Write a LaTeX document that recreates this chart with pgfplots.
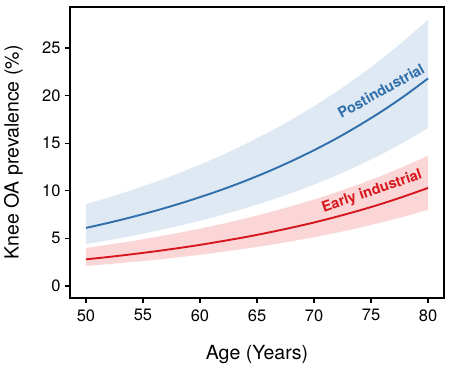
\documentclass[border=0pt]{standalone}
\usepackage{fontspec}
\setmainfont{TeX Gyre Heros}
\usepackage{pgfplots}
\pgfplotsset{compat=1.18}
\usepgfplotslibrary{fillbetween}
\usepackage{pgfplotstable}
\definecolor{bluel}{RGB}{48,110,172}
\definecolor{blueb}{RGB}{222,233,243}
\definecolor{redl}{RGB}{214,24,30}
\definecolor{redb}{RGB}{250,214,214}
\pgfplotstableread{
x bl bm bh rl rm rh
50 4.40 6.10 8.60 2.10 2.80 4.00
52 4.81 6.64 9.30 2.30 3.05 4.34
54 5.25 7.23 10.06 2.51 3.33 4.71
56 5.74 7.87 10.89 2.74 3.63 5.12
58 6.27 8.57 11.78 3.00 3.96 5.55
60 6.85 9.33 12.74 3.28 4.32 6.03
62 7.48 10.15 13.78 3.59 4.72 6.54
64 8.17 11.05 14.91 3.92 5.14 7.10
66 8.92 12.03 16.13 4.29 5.61 7.71
68 9.75 13.10 17.45 4.69 6.12 8.37
70 10.65 14.26 18.88 5.12 6.67 9.08
72 11.63 15.52 20.42 5.60 7.28 9.86
74 12.71 16.90 22.09 6.12 7.94 10.70
76 13.88 18.39 23.90 6.70 8.66 11.61
78 15.17 20.02 25.86 7.32 9.45 12.61
80 16.57 21.80 27.97 8.00 10.30 13.68
}\data
\begin{document}
\begin{tikzpicture}
\begin{axis}[name=ax,
  scale only axis, width=374pt, height=291pt,
  xmin=48.6, xmax=81.4, ymin=-1.26, ymax=29.3,
  xtick={50,55,...,80}, ytick={0,5,...,25},
  axis line style={line width=1.4pt},
  tick style={line width=1.2pt, black},
  tick align=outside, major tick length=5pt,
  xtick pos=bottom, ytick pos=left,
  /pgf/number format/assume math mode=true,
  tick label style={font=\fontsize{16.5}{19}\selectfont},
  xticklabel style={yshift=-3pt},
  yticklabel style={xshift=-1pt},
  xlabel={Age (Years)}, ylabel={Knee OA prevalence (\%)},
  every axis x label/.style={at={(axis description cs:0.5,0)}, anchor=base, yshift=-62pt, font=\fontsize{19.5}{23}\selectfont},
  every axis y label/.style={at={(axis description cs:0,0.5)}, xshift=-56.5pt, rotate=90, anchor=center, font=\fontsize{19.5}{23}\selectfont},
  clip=true,
]
\addplot[name path=bh, draw=none] table[x=x,y=bh]{\data};
\addplot[name path=bl, draw=none] table[x=x,y=bl]{\data};
\addplot[blueb] fill between[of=bh and bl];
\addplot[name path=rh, draw=none] table[x=x,y=rh]{\data};
\addplot[name path=rl, draw=none] table[x=x,y=rl]{\data};
\addplot[redb] fill between[of=rh and rl];
\addplot[bluel, line width=1.9pt, smooth] table[x=x,y=bm]{\data};
\addplot[redl, line width=1.9pt, smooth] table[x=x,y=rm]{\data};
\node[bluel, rotate=29, anchor=base, font=\fontsize{14.5}{17}\selectfont\bfseries] at (axis cs:76.1,20.0) {Postindustrial};
\node[redl, rotate=19, anchor=base, font=\fontsize{14.5}{17}\selectfont\bfseries] at (axis cs:75.2,9.5) {Early industrial};
\end{axis}
\path ([xshift=-70pt,yshift=-71pt]ax.south west) rectangle ([xshift=6pt,yshift=7pt]ax.north east);
\end{tikzpicture}
\end{document}
